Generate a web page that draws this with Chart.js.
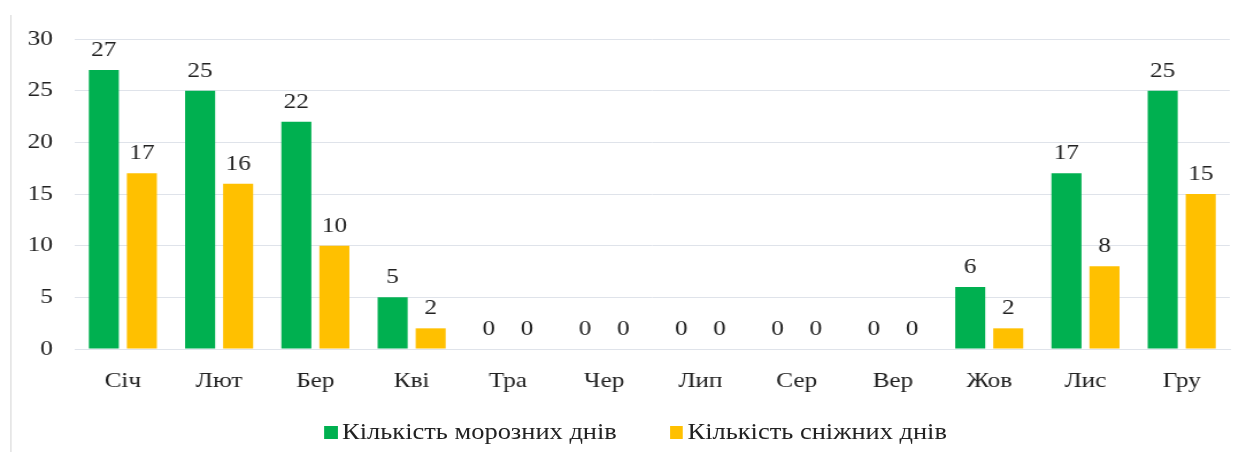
<!DOCTYPE html>
<html>
<head>
<meta charset="utf-8">
<script src="https://cdn.jsdelivr.net/npm/chart.js@4/dist/chart.umd.min.js"></script>
<style>
  html, body { margin: 0; padding: 0; background: #fff; overflow: hidden; }
  /* the source picture is stretched sideways, so the whole chart is too */
  #wrap { position: relative; width: 1084px; height: 452px; transform-origin: 0 0; transform: scaleX(1.1494); }
  #frame { position: absolute; left: 9px; top: 15px; bottom: 0; width: 1px; background: #d9d9d9; }
  #legend { position: absolute; left: 22px; right: 0; top: 419px; display: flex; justify-content: center;
    font-family: "Liberation Serif", "Times New Roman", serif; font-size: 23px; line-height: 26px; color: #222; }
  #legend .item { display: flex; align-items: center; margin: 0 23px; }
  #legend .box { width: 11.5px; height: 13px; margin-right: 4px; }
</style>
</head>
<body>
<div id="wrap">
  <div id="frame"></div>
  <canvas id="chart" width="1084" height="452"></canvas>
  <div id="legend"></div>
</div>
<script>
// months
const months = ['Січ', 'Лют', 'Бер', 'Кві', 'Тра', 'Чер', 'Лип', 'Сер', 'Вер', 'Жов', 'Лис', 'Гру'];
// frost days per month
const frostDays = [27, 25, 22, 5, 0, 0, 0, 0, 0, 6, 17, 25];
// snow days per month
const snowDays = [17, 16, 10, 2, 0, 0, 0, 0, 0, 2, 8, 15];
const seriesNames = ['Кількість морозних днів', 'Кількість сніжних днів'];
const seriesColors = ['#00B050', '#FFC000'];
const yTicks = [0, 5, 10, 15, 20, 25, 30];

const font = '"Liberation Serif", "Times New Roman", serif';
const textColor = '#222';

// draws the value above every bar, zeros included
const valueLabels = {
  id: 'valueLabels',
  afterDatasetsDraw(chart) {
    const ctx = chart.ctx;
    ctx.save();
    ctx.font = '22px ' + font;
    ctx.fillStyle = textColor;
    ctx.textAlign = 'center';
    ctx.textBaseline = 'alphabetic';
    chart.data.datasets.forEach((ds, i) => {
      chart.getDatasetMeta(i).data.forEach((bar, j) => {
        ctx.fillText(String(ds.data[j]), bar.x, bar.y - 14);
      });
    });
    ctx.restore();
  }
};

const chart = new Chart(document.getElementById('chart'), {
  type: 'bar',
  data: {
    labels: months,
    datasets: [
      { label: seriesNames[0], data: frostDays, backgroundColor: seriesColors[0] },
      { label: seriesNames[1], data: snowDays, backgroundColor: seriesColors[1] }
    ]
  },
  options: {
    responsive: false,
    animation: false,
    categoryPercentage: 0.79,
    barPercentage: 0.79,
    layout: { padding: { top: 39, right: 14, bottom: 0, left: 0 } },
    plugins: {
      legend: { display: false },
      tooltip: { enabled: false }
    },
    scales: {
      x: {
        grid: { display: false, drawTicks: false },
        border: { display: true, color: '#dfe3ea' },
        ticks: { color: textColor, padding: 19, font: { family: font, size: 22 } },
        afterFit(scale) { scale.height = 103; }
      },
      y: {
        min: 0,
        max: 30,
        afterBuildTicks(scale) { scale.ticks = yTicks.map(v => ({ value: v })); },
        grid: { color: '#dfe3ea', drawTicks: false },
        border: { display: false },
        ticks: { color: textColor, padding: 19, font: { family: font, size: 22 } },
        afterFit(scale) { scale.width = 65; }
      }
    }
  },
  plugins: [valueLabels]
});

// html legend built from the datasets
const legendEl = document.getElementById('legend');
chart.data.datasets.forEach(ds => {
  const item = document.createElement('div');
  item.className = 'item';
  const box = document.createElement('span');
  box.className = 'box';
  box.style.background = ds.backgroundColor;
  const txt = document.createElement('span');
  txt.textContent = ds.label;
  item.appendChild(box);
  item.appendChild(txt);
  legendEl.appendChild(item);
});
</script>
</body>
</html>
